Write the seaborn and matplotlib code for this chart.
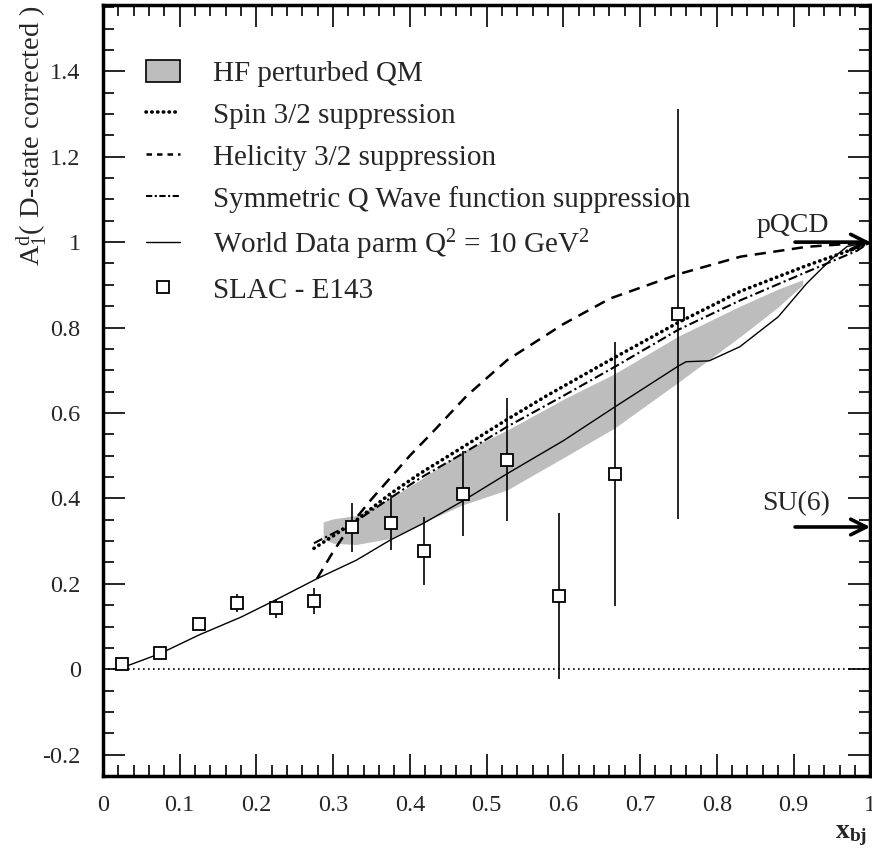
import numpy as np
import pandas as pd
import matplotlib
matplotlib.use("Agg")
import matplotlib.pyplot as plt
from matplotlib.patches import Patch
from matplotlib.lines import Line2D
from matplotlib.ticker import MultipleLocator, FuncFormatter
import seaborn as sns

sns.set_theme(style="ticks")
plt.rcParams['font.family'] = ['Liberation Serif', 'DejaVu Serif']
plt.rcParams['mathtext.fontset'] = 'custom'
plt.rcParams['mathtext.rm'] = 'Liberation Serif'
plt.rcParams['mathtext.it'] = 'Liberation Serif'
plt.rcParams['mathtext.bf'] = 'Liberation Serif:bold'

# SLAC E143 points
x_pts = [0.025, 0.075, 0.125, 0.175, 0.225, 0.275, 0.325, 0.375, 0.418, 0.469, 0.527, 0.594, 0.667, 0.750]
y_pts = [0.012, 0.039, 0.105, 0.155, 0.143, 0.160, 0.332, 0.343, 0.277, 0.411, 0.491, 0.171, 0.457, 0.831]
y_err = [0.006, 0.008, 0.010, 0.022, 0.022, 0.030, 0.057, 0.064, 0.080, 0.100, 0.145, 0.195, 0.310, 0.480]

# World data parametrisation Q^2 = 10 GeV^2
world_x = [0.02, 0.075, 0.125, 0.18, 0.226, 0.279, 0.33, 0.374, 0.418, 0.469, 0.527,
           0.60, 0.667, 0.75, 0.76, 0.79, 0.83, 0.88, 0.917, 0.948, 0.97, 1.0]
world_y = [0.0, 0.037, 0.080, 0.122, 0.163, 0.212, 0.255, 0.302, 0.342, 0.394, 0.458,
           0.535, 0.614, 0.710, 0.720, 0.722, 0.755, 0.825, 0.903, 0.958, 0.990, 1.0]

# Spin 3/2 suppression
spin_x = [0.275, 0.30, 0.326, 0.374, 0.413, 0.469, 0.527, 0.578, 0.667, 0.75, 0.831, 0.917, 0.983, 1.0]
spin_y = [0.283, 0.312, 0.343, 0.410, 0.458, 0.520, 0.585, 0.640, 0.730, 0.812, 0.885, 0.945, 0.987, 1.0]

# Helicity 3/2 suppression
heli_x = [0.279, 0.30, 0.326, 0.35, 0.374, 0.40, 0.426, 0.474, 0.527, 0.60, 0.661, 0.75, 0.831, 0.917, 0.987, 1.0]
heli_y = [0.212, 0.275, 0.345, 0.398, 0.447, 0.500, 0.548, 0.640, 0.724, 0.808, 0.868, 0.925, 0.966, 0.989, 0.998, 1.0]

# Symmetric Q wave function suppression
symq_x = [0.275, 0.30, 0.326, 0.374, 0.413, 0.469, 0.527, 0.60, 0.667, 0.75, 0.831, 0.917, 0.983, 1.0]
symq_y = [0.295, 0.318, 0.342, 0.400, 0.447, 0.505, 0.568, 0.640, 0.708, 0.795, 0.864, 0.930, 0.980, 1.0]

# HF perturbed QM band
band_x = [0.287, 0.30, 0.33, 0.374, 0.413, 0.469, 0.527, 0.60, 0.667, 0.75, 0.83, 0.88, 0.912]
band_hi = [0.345, 0.352, 0.36, 0.400, 0.443, 0.510, 0.560, 0.632, 0.692, 0.780, 0.850, 0.890, 0.912]
band_lo = [0.305, 0.295, 0.292, 0.306, 0.340, 0.385, 0.420, 0.495, 0.565, 0.672, 0.778, 0.848, 0.900]

labels = ["HF perturbed QM", "Spin 3/2 suppression", "Helicity 3/2 suppression",
          "Symmetric Q Wave function suppression", "World Data parm Q$^2$ = 10 GeV$^2$", "SLAC - E143"]

fig = plt.figure(figsize=(8.72, 8.49), dpi=100)
ax = fig.add_axes([0.118, 0.086, 0.880, 0.908])

ax.fill_between(band_x, band_lo, band_hi, color="#bdbdbd", lw=0, zorder=1)

sns.lineplot(x=world_x, y=world_y, ax=ax, color="black", lw=1.0, sort=False, estimator=None, zorder=3)
sns.lineplot(x=spin_x, y=spin_y, ax=ax, color="black", lw=2.6, sort=False, estimator=None,
             linestyle=(0, (0.1, 1.5)), dash_capstyle="round", zorder=3)
sns.lineplot(x=heli_x, y=heli_y, ax=ax, color="black", lw=1.8, sort=False, estimator=None,
             linestyle=(0, (4.5, 3.0)), zorder=3)
sns.lineplot(x=symq_x, y=symq_y, ax=ax, color="black", lw=1.5, sort=False, estimator=None,
             linestyle=(0, (4.5, 1.6, 1.0, 1.6)), zorder=3)

ax.axhline(0, color="black", lw=1.2, linestyle=(0, (1, 2)), zorder=2)

ax.errorbar(x_pts, y_pts, yerr=y_err, fmt="s", ms=8, mfc="white", mec="black", mew=1.3,
            ecolor="black", elinewidth=1.2, capsize=0, zorder=4)

# pQCD and SU(6) arrows
ax.annotate("", xy=(1.0, 1.0), xytext=(0.902, 1.0),
            arrowprops=dict(arrowstyle="->", lw=2.6, color="black", mutation_scale=28, shrinkA=0, shrinkB=0))
ax.text(0.947, 1.04, "pQCD", fontsize=20, ha="right", va="center")
ax.annotate("", xy=(1.0, 0.333), xytext=(0.902, 0.333),
            arrowprops=dict(arrowstyle="->", lw=2.6, color="black", mutation_scale=28, shrinkA=0, shrinkB=0))
ax.text(0.947, 0.387, "SU(6)", fontsize=20, ha="right", va="center")

ax.set_xlim(0, 1)
ax.set_ylim(-0.25, 1.555)
ax.xaxis.set_major_locator(MultipleLocator(0.1))
ax.xaxis.set_minor_locator(MultipleLocator(0.02))
ax.yaxis.set_major_locator(MultipleLocator(0.2))
ax.yaxis.set_minor_locator(MultipleLocator(0.05))
fmt = FuncFormatter(lambda v, p: f"{v:g}" if abs(v) > 1e-9 else "0")
ax.xaxis.set_major_formatter(fmt)
ax.yaxis.set_major_formatter(fmt)
ax.tick_params(which="both", direction="in", top=True, right=True, color="black", width=1.2)
ax.tick_params(which="major", length=16, labelsize=17.5)
ax.tick_params(which="minor", length=8)
ax.tick_params(axis="x", which="major", pad=14)
ax.tick_params(axis="y", which="major", pad=16)
for s in ax.spines.values():
    s.set_linewidth(2.5)
    s.set_color("black")

ax.set_ylabel("A$_1^{\\mathrm{d}}$( D-state corrected )", fontsize=20.5, loc="top")
ax.yaxis.set_label_coords(-0.07, 1.0)
ax.set_xlabel("$\\mathbf{x_{bj}}$", fontsize=20, loc="right")
ax.xaxis.set_label_coords(0.996, -0.061)

handles = [Patch(facecolor="#bdbdbd", edgecolor="black", lw=1.2),
           Line2D([], [], color="black", lw=2.6, linestyle=(0, (0.1, 1.5)), dash_capstyle="round"),
           Line2D([], [], color="black", lw=1.8, linestyle=(0, (2.2, 2.0))),
           Line2D([], [], color="black", lw=1.5, linestyle=(0, (3.0, 1.2, 1.0, 1.2))),
           Line2D([], [], color="black", lw=1.0),
           Line2D([], [], color="black", marker="s", ms=8, mfc="white", mew=1.3, linestyle="none")]
ax.legend(handles, labels, loc="upper left", bbox_to_anchor=(0.056, 0.929), frameon=False,
          fontsize=21, borderpad=0, borderaxespad=0, handlelength=1.16, handletextpad=1.13,
          labelspacing=0.5, handleheight=0.8)

fig.savefig("out.png", dpi=100)
